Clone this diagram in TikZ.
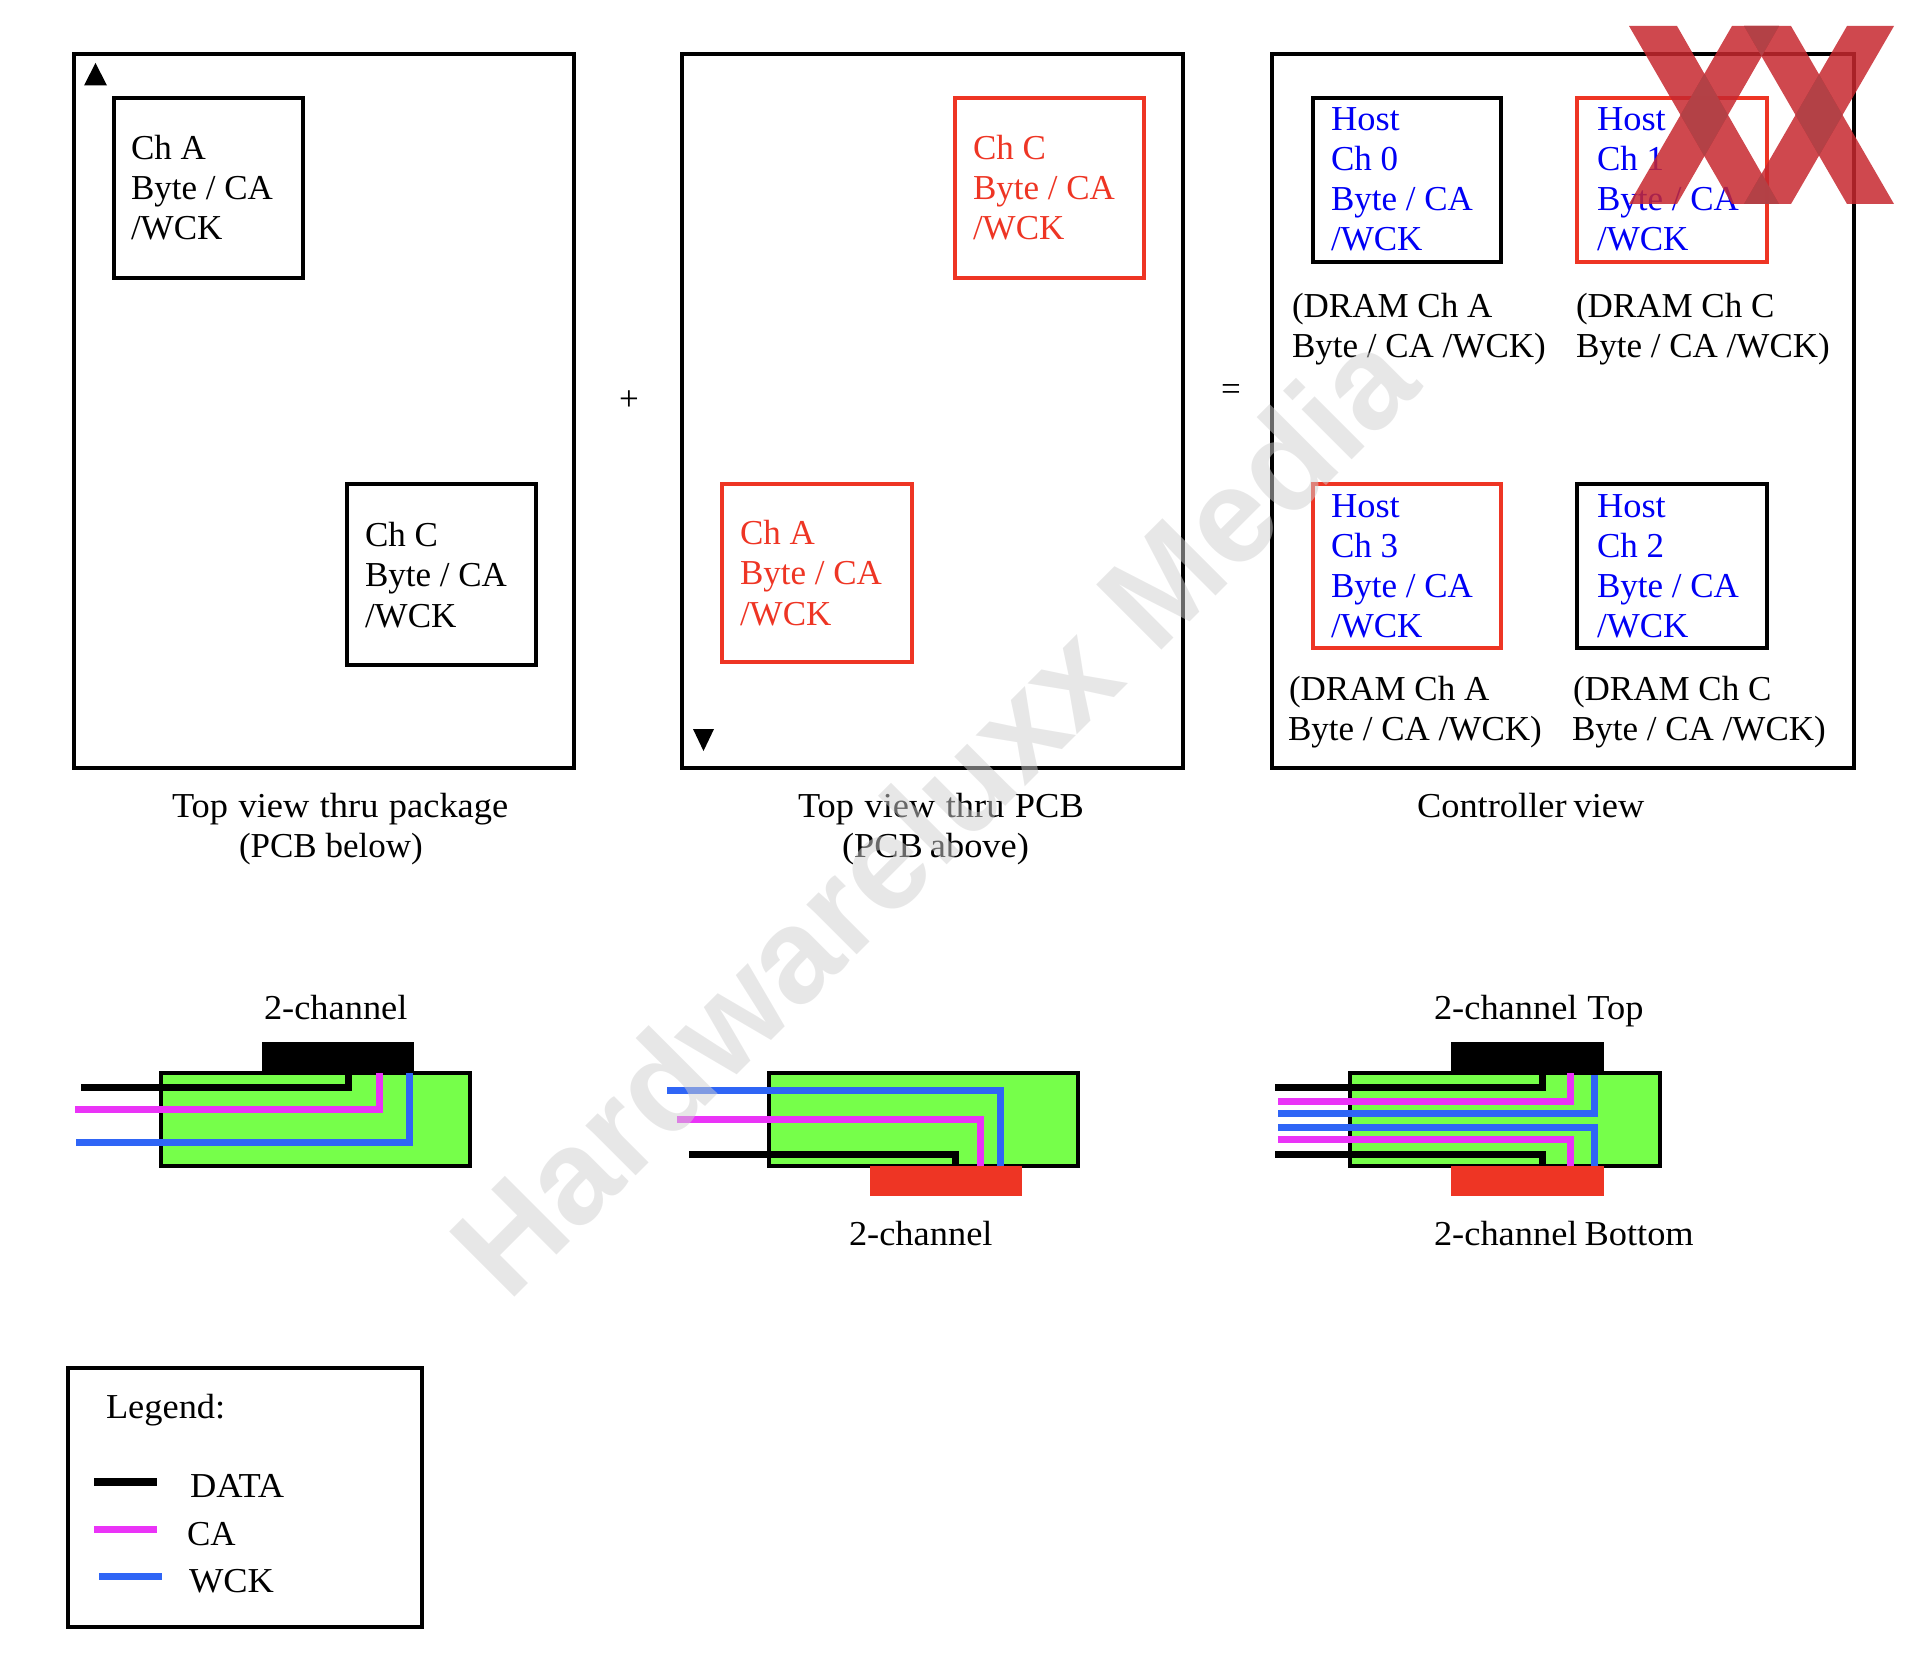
\documentclass[tikz,border=0pt]{standalone}
\usepackage{fontspec}
\setmainfont{Liberation Serif}
\newfontfamily\wmfont{Liberation Sans}
\newfontfamily\widefont[FakeStretch=1.04]{Liberation Serif}
\usetikzlibrary{calc}
\definecolor{lblue}{RGB}{47,101,246}
\definecolor{lmag}{RGB}{234,51,247}
\definecolor{lgreen}{RGB}{118,255,74}
\definecolor{lred}{RGB}{238,53,36}
\definecolor{hblue}{RGB}{0,0,245}
\definecolor{xred}{RGB}{199,40,47}
\definecolor{xdark}{RGB}{175,70,75}
\definecolor{wmgray}{RGB}{208,208,208}
\tikzset{
  sp/.style={execute at begin node={\spaceskip=#1em\relax}},
  lbl/.style={anchor=base west,inner sep=0pt,outer sep=0pt,font=\fontsize{17.5}{20}\selectfont,text=black},
  wlbl/.style={lbl,font=\widefont\fontsize{17.5}{20}\selectfont},
  redt/.style={lbl,text=lred},
  hostt/.style={lbl,text=hblue},
  whost/.style={wlbl,text=hblue},
  frame/.style={draw=black,line width=1.8pt,line join=miter},
  bk/.style={draw=black,line width=1.8pt},
  rd/.style={draw=lred,line width=1.6pt},
  pcb/.style={draw=black,fill=lgreen,line width=1.8pt},
  wdata/.style={draw=black,line width=3.5pt,line join=miter},
  wca/.style={draw=lmag,line width=3.5pt,line join=miter},
  wwck/.style={draw=lblue,line width=3.5pt,line join=miter},
  xbar/.style={fill=xred,opacity=.85},
}
\newcommand{\xa}{(1629,26) -- (1677,26) -- (1779,204) -- (1732,204) -- cycle}
\newcommand{\xb}{(1732,26) -- (1779,26) -- (1677,204) -- (1629,204) -- cycle}
\newcommand{\xc}{(1744,26) -- (1791,26) -- (1894,204) -- (1847,204) -- cycle}
\newcommand{\xd}{(1847,26) -- (1894,26) -- (1791,204) -- (1744,204) -- cycle}
\newcommand{\xover}[2]{\begin{scope}\clip #1;\fill[xdark,opacity=.8] #2;\end{scope}}
\begin{document}
\begin{tikzpicture}[x=0.5pt,y=-0.5pt]
\useasboundingbox (0,0) rectangle (1920,1673);
% big frames
\draw[frame] (74,54) rectangle (574,768);
\draw[frame] (682,54) rectangle (1183,768);
\draw[frame] (1272,54) rectangle (1854,768);
% triangles
\fill[black] (95.5,63) -- (107,85.5) -- (84,85.5) -- cycle;
\fill[black] (693,729) -- (714,729) -- (703.5,751) -- cycle;
% package view
\draw[bk] (114,98) rectangle (303,278);
\node[lbl] (a1) at (131,159.5) {Ch A};
\node[lbl] (a2) at (131,199.5) {Byte / CA};
\node[lbl] (a3) at (131,239.5) {/WCK};
\draw[bk] (347,484) rectangle (536,665);
\node[lbl] (c1) at (365,547) {Ch C};
\node[lbl] (c2) at (365,587) {Byte / CA};
\node[lbl] (c3) at (365,627) {/WCK};
% PCB view
\draw[rd] (955,98) rectangle (1144,278);
\node[redt] (rc1) at (973,159.5) {Ch C};
\node[redt] (rc2) at (973,199.5) {Byte / CA};
\node[redt] (rc3) at (973,239.5) {/WCK};
\draw[rd] (722,484) rectangle (912,662);
\node[redt] (ra1) at (740,545) {Ch A};
\node[redt] (ra2) at (740,585) {Byte / CA};
\node[redt] (ra3) at (740,625) {/WCK};
% controller view
\draw[bk] (1313,98) rectangle (1501,262);
\node[whost] (h01) at (1331,131) {Host};
\node[hostt] (h02) at (1331,171) {Ch 0};
\node[hostt] (h03) at (1331,211) {Byte / CA};
\node[hostt] (h04) at (1331,251) {/WCK};
\draw[rd] (1577,98) rectangle (1767,262);
\node[whost] (h11) at (1597,131) {Host};
\node[hostt] (h12) at (1597,171) {Ch 1};
\node[hostt] (h13) at (1597,211) {Byte / CA};
\node[hostt] (h14) at (1597,251) {/WCK};
\draw[rd] (1313,484) rectangle (1501,648);
\node[whost] (h31) at (1331,518) {Host};
\node[hostt] (h32) at (1331,558) {Ch 3};
\node[hostt] (h33) at (1331,597) {Byte / CA};
\node[hostt] (h34) at (1331,637) {/WCK};
\draw[bk] (1577,484) rectangle (1767,648);
\node[whost] (h21) at (1597,518) {Host};
\node[hostt] (h22) at (1597,558) {Ch 2};
\node[hostt] (h23) at (1597,597) {Byte / CA};
\node[hostt] (h24) at (1597,637) {/WCK};
\node[lbl] (d1) at (1292,318) {(DRAM Ch A};
\node[lbl] (d2) at (1292,358) {Byte / CA /WCK)};
\node[lbl] (d3) at (1576,318) {(DRAM Ch C};
\node[lbl] (d4) at (1576,358) {Byte / CA /WCK)};
\node[lbl] (d5) at (1289,700) {(DRAM Ch A};
\node[lbl] (d6) at (1288,740) {Byte / CA /WCK)};
\node[lbl] (d7) at (1573,700) {(DRAM Ch C};
\node[lbl] (d8) at (1572,740) {Byte / CA /WCK)};
% operators and captions
\node[lbl] (plus) at (619,411) {+};
\node[lbl] (eq) at (1221,401) {=};
\node[wlbl,sp=.3] (cap1) at (172,817) {Top view thru package};
\node[lbl] (cap2) at (239,857) {(PCB below)};
\node[wlbl,sp=.3] (cap3) at (798,817) {Top view thru PCB};
\node[wlbl,sp=.2] (cap4) at (842,857) {(PCB above)};
\node[wlbl,sp=.2] (cap5) at (1417,817) {Controller view};
% diagram 1
\node[wlbl] (t1) at (264,1019.5) {2-channel};
\fill[black] (262,1042) rectangle (414,1075);
\draw[pcb] (161,1073) rectangle (470,1166);
\draw[wdata] (81,1087) -- (348,1087) -- (348,1073);
\draw[wca] (75,1109) -- (379,1109) -- (379,1073);
\draw[wwck] (76,1142) -- (409,1142) -- (409,1073);
% diagram 2
\node[wlbl] (t2) at (849,1245) {2-channel};
\draw[pcb] (769,1073) rectangle (1078,1166);
\fill[lred] (870,1166) rectangle (1022,1196);
\draw[wwck] (667,1090) -- (1000,1090) -- (1000,1166);
\draw[wca] (677,1119) -- (980,1119) -- (980,1166);
\draw[wdata] (689,1154) -- (955,1154) -- (955,1166);
% diagram 3
\node[wlbl,sp=.28] (t3) at (1434,1019.5) {2-channel Top};
\node[wlbl,sp=.2] (t4) at (1434,1245) {2-channel Bottom};
\fill[black] (1451,1042) rectangle (1604,1075);
\draw[pcb] (1350,1073) rectangle (1660,1166);
\fill[lred] (1451,1166) rectangle (1604,1196);
\draw[wdata] (1275,1087) -- (1542,1087) -- (1542,1073);
\draw[wdata] (1275,1154) -- (1542,1154) -- (1542,1166);
\draw[wwck] (1278,1113) -- (1594,1113) -- (1594,1075);
\draw[wwck] (1278,1127) -- (1594,1127) -- (1594,1166);
\draw[wca] (1278,1101) -- (1570,1101) -- (1570,1073);
\draw[wca] (1278,1139) -- (1570,1139) -- (1570,1166);
% legend
\draw[frame] (68,1368) rectangle (422,1627);
\node[wlbl] (lg) at (106,1418) {Legend:};
\coordinate (ld0) at (94,1482); \coordinate (ld1) at (157,1482);
\coordinate (lc0) at (94,1529); \coordinate (lc1) at (157,1529);
\coordinate (lw0) at (99,1576); \coordinate (lw1) at (162,1576);
\draw[wdata,line width=4pt] (ld0) -- (ld1);
\draw[wca] (lc0) -- (lc1);
\draw[wwck] (lw0) -- (lw1);
\node[wlbl] (ld) at (190,1497) {DATA};
\node[lbl] (lc) at (187,1545) {CA};
\node[wlbl] (lw) at (189,1592) {WCK};
% watermark
\node[anchor=base west,inner sep=0pt,rotate=45,text=wmgray,text opacity=.5,font=\wmfont\bfseries\fontsize{67}{70}\selectfont] (wm) at (508,1304) {Hardwareluxx Media};
% XX mark
\fill[xbar] \xa;
\fill[xbar] \xb;
\fill[xbar] \xc;
\fill[xbar] \xd;
\xover{\xa}{\xb}
\xover{\xc}{\xd}
\xover{\xb}{\xc}
\xover{\xa}{\xd}
\end{tikzpicture}
\end{document}
